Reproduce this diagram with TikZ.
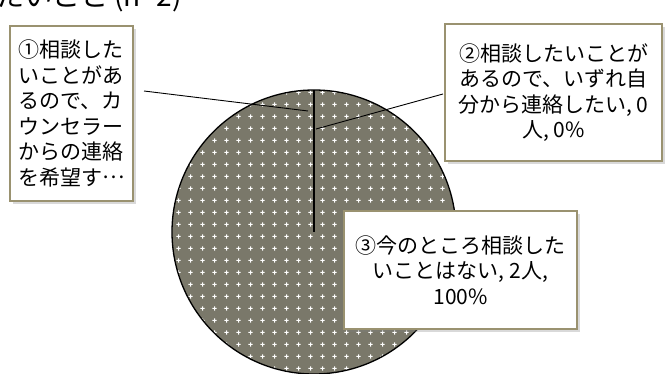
\documentclass[tikz,border=0pt]{standalone}
\usepackage{fontspec}
\setmainfont{Noto Sans CJK JP}
\usetikzlibrary{shadows,patterns.meta}
\definecolor{piefill}{HTML}{7A786A}
\definecolor{boxline}{HTML}{9A9270}
\tikzdeclarepattern{name=plusdots, type=uncolored,
  bottom left={(0pt,0pt)}, top right={(11.5pt,11.5pt)}, tile size={(11.5pt,11.5pt)},
  code={\fill (3.5pt,5.25pt) rectangle (8pt,6.25pt); \fill (5.25pt,3.5pt) rectangle (6.25pt,8pt);}}
\tikzset{
  labelbox/.style={draw=boxline, line width=1.5pt, fill=white, inner sep=0pt,
    drop shadow={shadow xshift=3pt, shadow yshift=-3pt, opacity=0.3},
    font=\fontsize{21}{25.5}\selectfont},
  leader/.style={draw=black, line width=0.9pt},
}
\begin{document}
\begin{tikzpicture}[x=1pt,y=-1pt]
\useasboundingbox (0,0) rectangle (665,374);
\clip (0,0) rectangle (665,374);
\node[anchor=base west, inner sep=0pt, font=\fontsize{28}{30}\selectfont] (title) at (-4,7) {たいこと (n=2)};
% pie
\coordinate (c) at (314,232);
\coordinate (top) at (314,90);
\fill[piefill] (c) circle (142pt);
\fill[pattern=plusdots, pattern color=white] (c) circle (142pt);
\draw[line width=1.3pt] (c) circle (142pt);
\draw[line width=1.3pt] (c) -- (top);
% leaders
\coordinate (l1a) at (144,91);
\coordinate (l1b) at (308,111);
\coordinate (l2a) at (443,94);
\coordinate (l2b) at (316,129);
\draw[leader] (l1a) -- (l1b);
\draw[leader] (l2a) -- (l2b);
% boxes
\node[labelbox, minimum width=123pt, minimum height=175pt, align=left] (b1) at (71.5,113.5)
  {①相談した\\いことがあ\\るので、カ\\ウンセラー\\からの連絡\\を希望す\raisebox{0.3em}{…}};
\node[labelbox, minimum width=217pt, minimum height=137pt, align=center] (b2) at (553.5,92.5)
  {②相談したいことが\\あるので、いずれ自\\分から連絡したい, 0\\人, 0\%};
\node[labelbox, minimum width=233pt, minimum height=118pt, align=center] (b3) at (460.5,270)
  {③今のところ相談した\\いことはない, 2人,\\100\%};
\end{tikzpicture}
\end{document}
